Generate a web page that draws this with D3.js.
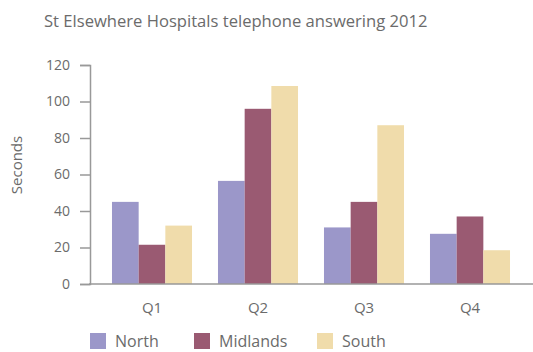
<!DOCTYPE html>
<html>
<head>
<meta charset="utf-8">
<script src="https://cdn.jsdelivr.net/npm/d3@7"></script>
<style>
  body { margin: 0; background: #fff; }
  text { font-family: "Open Sans", sans-serif; fill: #6b6b6b; }
</style>
</head>
<body>
<div id="chart"></div>
<script>
// data
var quarters = ["Q1", "Q2", "Q3", "Q4"];
var regions = ["North", "Midlands", "South"];
var north = [45, 56.5, 31, 27.5];
var midlands = [21.5, 96, 45, 37];
var south = [32, 108.5, 87, 18.5];
var yTicks = [0, 20, 40, 60, 80, 100, 120];
var colors = ["#9b97c9", "#9a5a72", "#f0dcab"];

var series = [north, midlands, south];

var svg = d3.select("#chart")
    .append("svg")
    .attr("width", 533)
    .attr("height", 352);

// title
svg.append("text")
    .attr("x", 44)
    .attr("y", 27)
    .style("font-size", "16.6px")
    .text("St Elsewhere Hospitals telephone answering 2012");

// scales
var y = d3.scaleLinear()
    .domain([0, 120])
    .range([284, 65]);

var x = d3.scaleBand()
    .domain(quarters)
    .range([99, 523])
    .paddingInner(0.245)
    .paddingOuter(0.1225);

var xSub = d3.scaleBand()
    .domain(regions)
    .range([0, x.bandwidth()]);

// Y axis
var yAxis = svg.append("g")
    .attr("transform", "translate(90,0)")
    .call(d3.axisLeft(y).tickValues(yTicks).tickSize(10).tickPadding(10));
yAxis.select(".domain").attr("stroke", "#999").attr("stroke-width", 1.5);
yAxis.selectAll(".tick line").attr("stroke", "#999").attr("stroke-width", 1.5);
yAxis.selectAll(".tick text")
    .style("font-size", "14px")
    .attr("fill", "#6b6b6b");

// y label
svg.append("text")
    .attr("transform", "translate(22,165) rotate(-90)")
    .style("text-anchor", "middle")
    .style("font-size", "15px")
    .text("Seconds");

// bars
svg.append("g")
    .selectAll("g")
    .data(quarters)
    .enter()
    .append("g")
    .attr("transform", function(d) { return "translate(" + x(d) + ",0)"; })
    .selectAll("rect")
    .data(function(d, i) { return regions.map(function(r, j) { return {region: r, value: series[j][i], idx: j}; }); })
    .enter()
    .append("rect")
        .attr("x", function(d) { return xSub(d.region); })
        .attr("y", function(d) { return y(d.value); })
        .attr("width", xSub.bandwidth())
        .attr("height", function(d) { return y(0) - y(d.value); })
        .attr("fill", function(d) { return colors[d.idx]; });

// X axis
var xAxis = svg.append("g")
    .attr("transform", "translate(0,284)")
    .call(d3.axisBottom(x).tickSize(0).tickPadding(18));
xAxis.select(".domain").remove();
xAxis.selectAll(".tick text")
    .style("font-size", "15px")
    .attr("fill", "#6b6b6b");
svg.append("line")
    .attr("x1", 89)
    .attr("x2", 533)
    .attr("y1", 284)
    .attr("y2", 284)
    .attr("stroke", "#999")
    .attr("stroke-width", 1.5);

// legend
var legendX = [90, 194, 317];
var legend = svg.append("g")
    .selectAll("g")
    .data(regions)
    .enter()
    .append("g")
    .attr("transform", function(d, i) { return "translate(" + legendX[i] + ",333)"; });
legend.append("rect")
    .attr("width", 16)
    .attr("height", 16)
    .attr("fill", function(d, i) { return colors[i]; });
legend.append("text")
    .attr("x", 25)
    .attr("y", 14)
    .style("font-size", "16px")
    .text(function(d) { return d; });
</script>
</body>
</html>
